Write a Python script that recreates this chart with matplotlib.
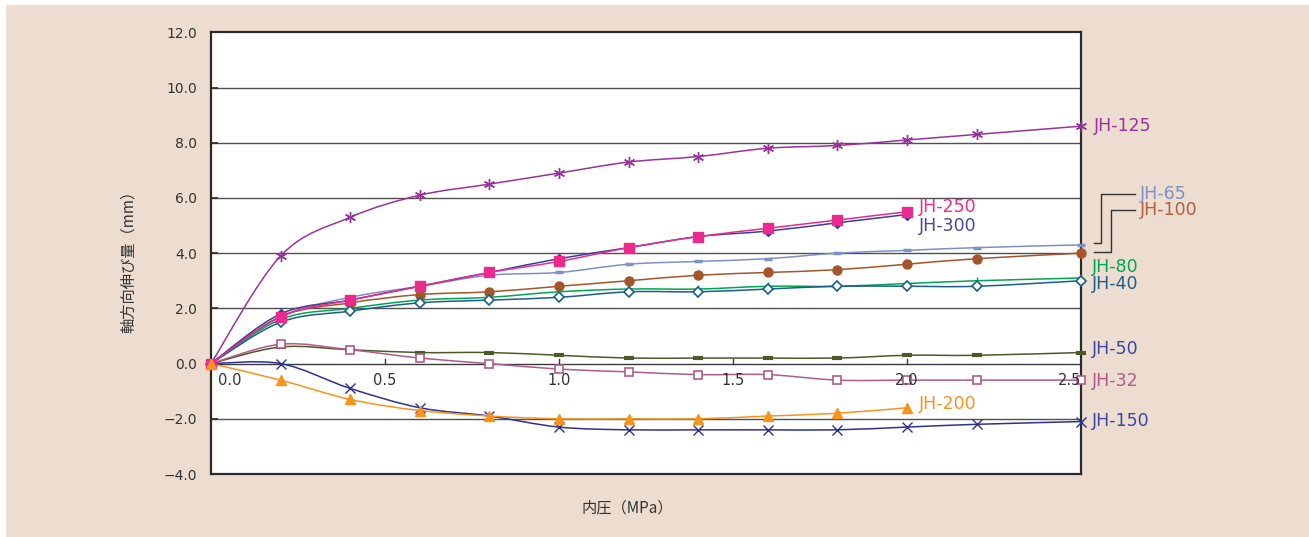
import numpy as np
import matplotlib
matplotlib.use("Agg")
import matplotlib.pyplot as plt
from matplotlib.path import Path
from matplotlib.patches import PathPatch, Rectangle

plt.rcParams['font.family'] = ['Noto Sans CJK JP', 'DejaVu Sans']

# Internal pressure (MPa)
pressure = [0.0, 0.2, 0.4, 0.6, 0.8, 1.0, 1.2, 1.4, 1.6, 1.8, 2.0, 2.2, 2.5]
pressure_short = pressure[:11]

# Axial elongation (mm) for each size
jh125 = [0.0, 3.9, 5.3, 6.1, 6.5, 6.9, 7.3, 7.5, 7.8, 7.9, 8.1, 8.3, 8.6]
jh250 = [0.0, 1.7, 2.3, 2.8, 3.3, 3.7, 4.2, 4.6, 4.9, 5.2, 5.5]
jh300 = [0.0, 1.8, 2.3, 2.8, 3.3, 3.8, 4.2, 4.6, 4.8, 5.1, 5.4]
jh65 = [0.0, 1.7, 2.4, 2.8, 3.2, 3.3, 3.6, 3.7, 3.8, 4.0, 4.1, 4.2, 4.3]
jh100 = [0.0, 1.7, 2.2, 2.5, 2.6, 2.8, 3.0, 3.2, 3.3, 3.4, 3.6, 3.8, 4.0]
jh80 = [0.0, 1.6, 2.0, 2.3, 2.4, 2.6, 2.7, 2.7, 2.8, 2.8, 2.9, 3.0, 3.1]
jh40 = [0.0, 1.5, 1.9, 2.2, 2.3, 2.4, 2.6, 2.6, 2.7, 2.8, 2.8, 2.8, 3.0]
jh50 = [0.0, 0.6, 0.5, 0.4, 0.4, 0.3, 0.2, 0.2, 0.2, 0.2, 0.3, 0.3, 0.4]
jh32 = [0.0, 0.7, 0.5, 0.2, 0.0, -0.2, -0.3, -0.4, -0.4, -0.6, -0.6, -0.6, -0.6]
jh200 = [0.0, -0.6, -1.3, -1.7, -1.9, -2.0, -2.0, -2.0, -1.9, -1.8, -1.6]
jh150 = [0.0, 0.0, -0.9, -1.6, -1.9, -2.3, -2.4, -2.4, -2.4, -2.4, -2.3, -2.2, -2.1]

y_ticks = [-4.0, -2.0, 0.0, 2.0, 4.0, 6.0, 8.0, 10.0, 12.0]
x_ticks = [0.0, 0.5, 1.0, 1.5, 2.0, 2.5]

# name, x, y, line color, label color, marker style
series = [
    ("JH-125", pressure, jh125, "#993399", "#993399",
     dict(marker=(6, 2, 0), ms=8, mew=1.0, mfc="#993399", mec="#993399")),
    ("JH-65", pressure, jh65, "#7f90c2", "#7f90c2",
     dict(marker="_", ms=6, mew=2.5, mec="#7f90c2")),
    ("JH-100", pressure, jh100, "#a4552b", "#b0603a",
     dict(marker="o", ms=6.5, mfc="#a4552b", mec="#a4552b")),
    ("JH-80", pressure, jh80, "#00a651", "#00a651",
     dict(marker="|", ms=6, mew=1.0, mec="#00a651")),
    ("JH-40", pressure, jh40, "#1b5e8c", "#1b5e8c",
     dict(marker="D", ms=5.5, mew=1.2, mfc="white", mec="#1b5e8c")),
    ("JH-50", pressure, jh50, "#4b5a28", "#3b46a0",
     dict(marker="_", ms=7, mew=3, mec="#4b5a28")),
    ("JH-32", pressure, jh32, "#b05b8b", "#b05b8b",
     dict(marker="s", ms=6, mew=1.2, mfc="white", mec="#b05b8b")),
    ("JH-150", pressure, jh150, "#2e3192", "#3b46a0",
     dict(marker="x", ms=7, mew=1.0, mec="#2e3192")),
    ("JH-300", pressure_short, jh300, "#3a3f98", "#45489e",
     dict(marker="D", ms=5.5, mfc="#3a3f98", mec="#3a3f98")),
    ("JH-250", pressure_short, jh250, "#ec2a8e", "#ec2a8e",
     dict(marker="s", ms=6.5, mfc="#ec2a8e", mec="#ec2a8e")),
    ("JH-200", pressure_short, jh200, "#f7941d", "#f7941d",
     dict(marker="^", ms=7.5, mfc="#f7941d", mec="#f7941d")),
]

# label anchor positions (data coordinates, left-aligned)
label_pos = {
    "JH-125": (2.537, 8.6),
    "JH-80": (2.53, 3.5),
    "JH-40": (2.53, 2.88),
    "JH-50": (2.53, 0.53),
    "JH-32": (2.53, -0.63),
    "JH-150": (2.53, -2.08),
    "JH-250": (2.034, 5.67),
    "JH-300": (2.034, 4.98),
    "JH-200": (2.034, -1.47),
    "JH-65": (2.67, 6.14),
    "JH-100": (2.67, 5.56),
}
# leader lines for the two crowded labels: (elbow x, label y)
leaders = {"JH-65": (2.557, 6.14), "JH-100": (2.586, 5.56)}


def smooth_path(xs, ys):
    """Cubic Bezier through the points (Catmull-Rom style tangents)."""
    pts = np.column_stack([xs, ys]).astype(float)
    n = len(pts)
    verts = [pts[0]]
    codes = [Path.MOVETO]
    for i in range(n - 1):
        p0 = pts[i - 1] if i > 0 else pts[i]
        p1 = pts[i]
        p2 = pts[i + 1]
        p3 = pts[i + 2] if i + 2 < n else pts[i + 1]
        c1 = p1 + (p2 - p0) / 6.0
        c2 = p2 - (p3 - p1) / 6.0
        verts += [c1, c2, p2]
        codes += [Path.CURVE4] * 3
    return Path(verts, codes)


fig = plt.figure(figsize=(13.09, 5.37), dpi=100, facecolor="white")
fig.patches.append(Rectangle((6 / 1309, 0), 1, 1 - 5 / 537, transform=fig.transFigure,
                             facecolor="#eddcd0", edgecolor="none", zorder=-10))

ax = fig.add_axes([211 / 1309, 63 / 537, 870 / 1309, 441.7 / 537])
ax.set_facecolor("white")
ax.set_xlim(0, 2.5)
ax.set_ylim(-4, 12)

for s in ax.spines.values():
    s.set_color("#2a2a2a")
    s.set_linewidth(1.6)

ax.set_yticks(y_ticks)
ax.set_yticklabels([f"{v:.1f}".replace("-", "\u2212") for v in y_ticks],
                   family=["DejaVu Sans"])
ax.tick_params(axis="y", direction="in", length=5, width=1.2, color="#2a2a2a",
               pad=10, labelsize=10, labelcolor="#333333")
ax.set_xticks([])
for v in y_ticks[1:-1]:
    ax.axhline(v, color="#3a3a3a" if v == 0 else "#505050", lw=1.0, zorder=1)

# pressure scale drawn along the zero line
for v in x_ticks[1:-1]:
    ax.plot([v, v], [0, 0.18], color="#3a3a3a", lw=1.0, zorder=1)
for v in x_ticks:
    ha = "left" if v == x_ticks[0] else ("right" if v == x_ticks[-1] else "center")
    dx = 0.02 if ha == "left" else 0.0
    ax.text(v + dx, -0.35, f"{v:.1f}", ha=ha, va="top", fontsize=10.5,
            color="#333333", family=["DejaVu Sans"], zorder=6)

for name, xs, ys, lc, tc, mk in series:
    ax.add_patch(PathPatch(smooth_path(xs, ys), facecolor="none", edgecolor=lc,
                           lw=1.1, zorder=3, clip_on=False))
    ax.plot(xs, ys, ls="none", zorder=4, clip_on=False, **mk)
    lx, ly = label_pos[name]
    ax.text(lx, ly, name, color=tc, fontsize=12.5, va="center", ha="left",
            family=["DejaVu Sans"], clip_on=False)

# leader lines from series ends to the JH-65 / JH-100 labels
for name, ys in (("JH-65", jh65), ("JH-100", jh100)):
    ex, ly = leaders[name]
    ax.plot([2.537, ex, ex, 2.655], [ys[-1] + 0.05, ys[-1] + 0.05, ly, ly],
            color="#333333", lw=1.0, clip_on=False, zorder=2)

fig.text(627 / 1309, 1 - 508 / 537, "内圧（MPa）", ha="center", va="center",
         fontsize=11, color="#333333")
fig.text(128 / 1309, 1 - 258 / 537, "軸方向伸び量（mm）", ha="center", va="center",
         rotation=90, fontsize=11, color="#333333")

fig.savefig("out.png", dpi=100, facecolor=fig.get_facecolor())
